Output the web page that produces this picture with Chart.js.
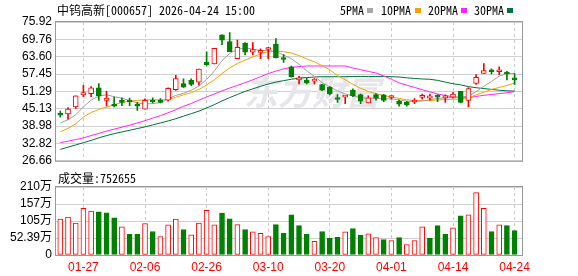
<!DOCTYPE html>
<html>
<head>
<meta charset="utf-8">
<script src="https://cdn.jsdelivr.net/npm/chart.js@4.4.0/dist/chart.umd.min.js"></script>
<style>
  body { margin: 0; background: #fff; }
  #wrap { position: relative; width: 578px; height: 276px; overflow: hidden; }
  canvas { position: absolute; left: 0; }
  .txt { position: absolute; font-family: "Noto Sans Mono CJK SC", "Noto Sans CJK SC", sans-serif; font-size: 12px; color: #000; white-space: nowrap; line-height: 14px; }
  .sq { position: absolute; width: 6px; height: 5px; }
</style>
</head>
<body>
<div id="wrap">
  <canvas id="k-chart" width="578" height="172" style="top:0"></canvas>
  <canvas id="vol-chart" width="578" height="104" style="top:172px"></canvas>
  <div class="txt" style="left:57px;top:3px">中钨高新[000657] 2026-04-24 15:00</div>
  <div class="txt" style="left:340px;top:3px">5PMA</div><div class="sq" style="left:367px;top:8px;background:#a8a8a8"></div>
  <div class="txt" style="left:381px;top:3px">10PMA</div><div class="sq" style="left:415px;top:8px;background:#f5a200"></div>
  <div class="txt" style="left:428px;top:3px">20PMA</div><div class="sq" style="left:461px;top:8px;background:#ff22ff"></div>
  <div class="txt" style="left:474px;top:3px">30PMA</div><div class="sq" style="left:507px;top:8px;background:#00703c"></div>
  <div class="txt" style="left:58px;top:171px">成交量:752655</div>
</div>
<script>
// 60 trading days, 01-22 .. 04-24
var xTickIdx = [3, 11, 19, 27, 35, 43, 51, 59];
var xTickLabels = ['01-27', '02-06', '02-26', '03-10', '03-20', '04-01', '04-14', '04-24'];
var yTicks = [26.66, 32.82, 38.98, 45.13, 51.29, 57.45, 63.60, 69.76, 75.92];
var volTicks = [0, 52.39, 104.78, 157.17, 209.56];
var volTickLabels = ['0', '52.39万', '105万', '157万', '210万'];

var open = [43.40,43.29,45.80,50.03,50.49,52.55,48.09,46.72,48.20,48.09,
            46.72,45.00,48.20,47.97,48.20,51.86,54.03,55.18,54.60,61.58,
            61.00,71.38,69.00,62.95,68.43,65.23,65.12,66.15,68.09,62.95,
            59.97,55.40,55.29,54.95,53.69,52.78,48.78,49.23,51.75,50.15,
            47.17,50.15,50.03,49.12,47.86,47.40,47.52,49.12,48.89,49.58,
            49.00,49.23,51.29,48.09,54.15,57.69,58.60,58.26,58.15,55.75];
var high = [44.32,45.57,49.69,53.46,53.00,54.03,51.29,49.23,49.00,48.89,
            47.40,48.66,49.00,48.77,52.60,57.00,55.75,55.75,59.18,65.35,
            66.60,71.38,72.20,69.46,68.60,68.66,66.38,66.95,70.03,64.32,
            60.32,56.66,56.09,55.86,53.80,53.00,50.15,49.69,52.20,50.38,
            49.69,50.49,50.26,49.69,48.20,47.75,48.78,50.38,50.38,50.15,
            50.03,50.95,51.29,52.66,57.23,61.12,59.29,59.98,58.38,57.57];
var low = [42.15,41.46,45.23,49.46,49.46,48.09,46.03,45.80,46.26,46.26,
           44.55,45.00,47.17,47.17,47.80,51.60,52.66,53.35,53.46,60.55,
           61.00,67.86,65.35,62.95,64.20,64.32,62.95,62.95,63.18,61.58,
           56.32,53.92,53.92,53.92,51.52,50.03,47.40,46.95,49.46,46.95,
           47.17,48.20,47.63,48.55,46.03,46.03,46.95,48.55,48.20,47.63,
           47.40,48.89,47.17,45.80,53.80,57.69,57.46,57.23,55.40,53.80];
var close = [42.83,45.00,49.69,50.83,52.55,49.69,48.89,46.03,47.40,47.52,
             46.03,48.09,47.52,47.40,52.40,55.86,52.78,53.80,59.18,60.66,
             66.60,69.44,65.35,66.95,65.23,66.15,65.69,66.60,63.18,62.60,
             56.55,55.86,54.26,55.40,51.75,50.38,48.43,49.69,49.80,47.86,
             49.00,48.89,48.09,49.35,46.72,46.49,47.86,49.92,49.69,49.23,
             49.35,50.38,47.40,52.32,56.32,58.72,58.26,58.60,57.46,55.40];

var ma5 = [40.1,41.2,43.0,45.8,48.2,49.6,50.1,49.4,48.9,48.0,
           47.2,46.8,47.0,47.3,48.6,49.9,50.6,51.7,53.2,55.5,
           58.5,62.2,64.8,66.2,66.7,66.3,65.8,65.8,65.4,64.2,
           62.9,60.9,58.6,56.6,54.4,52.9,51.5,50.4,49.7,49.1,
           48.8,48.8,48.7,48.6,48.3,47.8,47.7,47.9,48.3,48.8,
           49.0,49.2,49.3,49.6,51.2,53.1,54.8,56.7,57.6,57.7];
var ma10 = [36.9,38.2,39.8,42.2,43.8,44.9,45.7,46.6,47.3,47.8,
            48.1,48.3,48.3,48.3,48.4,49.2,50.1,50.8,52.0,53.6,
            55.4,57.6,59.6,61.2,62.4,63.5,64.6,65.4,65.6,65.4,
            64.9,64.0,62.8,61.8,60.4,59.0,56.9,55.4,53.8,52.4,
            51.3,50.5,49.8,49.3,48.8,48.3,48.1,48.0,48.0,48.3,
            48.4,48.5,48.5,48.8,50.1,51.0,52.0,52.7,53.4,54.2];
var ma20 = [33.1,33.6,34.2,34.8,35.6,36.4,37.2,37.9,38.6,39.3,
            40.1,40.9,41.8,42.7,43.7,44.8,46.0,47.0,48.2,49.3,
            50.4,51.5,52.5,53.4,54.4,55.4,56.5,57.6,58.5,59.3,
            59.8,60.1,60.3,60.3,60.3,60.3,60.3,60.3,59.6,59.0,
            58.4,57.8,56.8,55.6,54.3,53.5,52.7,51.9,51.1,50.4,
            49.8,49.4,49.1,49.0,49.5,49.9,50.2,50.5,50.8,51.2];
var ma30 = [30.7,31.5,32.3,33.1,33.9,34.8,35.6,36.3,36.9,37.5,
            38.1,38.7,39.4,40.1,40.8,41.6,42.5,43.4,44.3,45.4,
            46.6,47.9,49.1,50.2,51.3,52.2,53.1,53.9,54.6,55.1,
            55.6,56.0,56.2,56.4,56.5,56.5,56.5,56.5,56.6,56.6,
            56.6,56.6,56.6,56.5,56.4,56.1,55.9,55.7,55.6,55.2,
            54.6,54.0,53.6,53.0,52.6,52.3,52.0,51.7,51.5,51.4];

// volume in 万
var volume = [110.8,116.9,98.7,144.1,135.0,133.0,130.0,114.9,86.6,63.5,
              63.5,96.7,72.5,56.4,92.7,110.8,78.6,62.5,98.7,138.0,
              92.7,129.0,111.8,93.7,78.6,71.5,66.5,56.4,93.7,67.5,
              123.9,90.7,63.5,42.3,72.5,51.4,54.4,71.5,81.6,60.4,
              65.5,53.4,47.4,44.3,53.4,32.2,44.3,86.6,51.4,90.7,
              63.5,83.6,120.9,123.9,192.4,144.1,72.5,92.7,90.7,75.3];
var volUp = [1,1,1,1,1,0,0,0,1,0, 0,1,0,1,1,1,0,1,1,1,
             1,0,0,1,0,1,1,1,0,0, 0,0,0,1,0,0,0,1,0,0,
             1,1,0,1,0,1,1,1,0,0, 0,1,0,1,1,1,0,1,0,0];

var RED = '#ff0000', GREEN = '#008000';
var up = close.map(function (c, i) { return c >= open[i]; });

function pts(arr) { return arr.map(function (v, i) { return { x: i, y: v }; }); }

var xMin = -0.56, xMax = 59.96;

var framePlugin = {
  id: 'frame',
  afterDraw: function (chart) {
    var a = chart.chartArea, ctx = chart.ctx;
    ctx.save();
    ctx.strokeStyle = '#999';
    ctx.lineWidth = 1;
    ctx.strokeRect(a.left - 0.5, a.top - 0.5, a.right - a.left + 1, a.bottom - a.top + 1);
    ctx.restore();
  }
};

var watermark = {
  id: 'watermark',
  beforeDatasetsDraw: function (chart) {
    var ctx = chart.ctx;
    ctx.save();
    ctx.fillStyle = '#e6e6ea';
    ctx.font = 'italic bold 34px "Noto Sans CJK SC"';
    ctx.textBaseline = 'middle';
    ctx.fillText('东方财富', 244, 92);
    ctx.restore();
  }
};

function lineSet(data, color) {
  return { type: 'line', data: pts(data), borderColor: color, borderWidth: 1,
           pointRadius: 0, fill: false, tension: 0, order: 10 };
}

new Chart(document.getElementById('k-chart'), {
  data: {
    datasets: [
      lineSet(ma5, '#a0a0a0'),
      lineSet(ma10, '#f5a200'),
      lineSet(ma20, '#ff22ff'),
      lineSet(ma30, '#00703c'),
      {
        type: 'bar',
        data: low.map(function (l, i) { return { x: i, y: [l, high[i]] }; }),
        backgroundColor: up.map(function (u) { return u ? RED : GREEN; }),
        barThickness: 1, grouped: false, order: 2
      },
      {
        type: 'bar',
        data: open.map(function (o, i) { return { x: i, y: [o, close[i]] }; }),
        backgroundColor: up.map(function (u) { return u ? '#ffffff' : GREEN; }),
        borderColor: up.map(function (u) { return u ? RED : GREEN; }),
        borderWidth: 1, borderSkipped: false, minBarLength: 2,
        barThickness: 5, grouped: false, order: 1
      }
    ]
  },
  options: {
    animation: false, responsive: false, events: [],
    layout: { padding: { left: 0, right: 56, top: 22, bottom: 7 } },
    plugins: { legend: { display: false }, tooltip: { enabled: false } },
    scales: {
      x: {
        type: 'linear', min: xMin, max: xMax, offset: false,
        afterBuildTicks: function (s) { s.ticks = xTickIdx.map(function (v) { return { value: v }; }); },
        afterFit: function (s) { s.height = 0; },
        ticks: { display: false },
        grid: { color: '#c8c8c8', drawTicks: false, offset: false },
        border: { display: false, dash: [3, 3] }
      },
      y: {
        min: 26.66, max: 75.92,
        afterBuildTicks: function (s) { s.ticks = yTicks.map(function (v) { return { value: v }; }); },
        afterFit: function (s) { s.width = 56; },
        ticks: {
          callback: function (v, i) { return yTicks[i].toFixed(2); },
          autoSkip: false, padding: 4, color: '#000', font: { size: 12, family: '"Liberation Sans"' }
        },
        grid: { color: '#d0d0d0', drawTicks: false },
        border: { display: false }
      }
    }
  },
  plugins: [watermark, framePlugin]
});

new Chart(document.getElementById('vol-chart'), {
  type: 'bar',
  data: {
    datasets: [{
      data: volume.map(function (v, i) { return { x: i, y: v }; }),
      backgroundColor: volUp.map(function (u) { return u ? '#ffffff' : GREEN; }),
      borderColor: volUp.map(function (u) { return u ? RED : GREEN; }),
      borderWidth: 1, borderSkipped: false, barThickness: 5
    }]
  },
  options: {
    animation: false, responsive: false, events: [],
    layout: { padding: { left: 0, right: 56, top: 15, bottom: 0 } },
    plugins: { legend: { display: false }, tooltip: { enabled: false } },
    scales: {
      x: {
        type: 'linear', min: xMin, max: xMax, offset: false,
        afterBuildTicks: function (s) { s.ticks = xTickIdx.map(function (v) { return { value: v }; }); },
        afterFit: function (s) { s.height = 21; },
        ticks: {
          callback: function (v, i) { return xTickLabels[i]; },
          autoSkip: false, maxRotation: 0, padding: 5,
          color: RED, font: { size: 12, family: '"Liberation Sans"' }
        },
        grid: { color: '#c8c8c8', drawTicks: false, offset: false },
        border: { display: false, dash: [3, 3] }
      },
      y: {
        min: 0, max: 209.56,
        afterBuildTicks: function (s) { s.ticks = volTicks.map(function (v) { return { value: v }; }); },
        afterFit: function (s) { s.width = 56; },
        ticks: {
          callback: function (v, i) { return volTickLabels[i]; },
          autoSkip: false, padding: 4, color: '#000', font: { size: 12, family: '"Liberation Sans", "Noto Sans CJK SC"' }
        },
        grid: { color: '#d0d0d0', drawTicks: false },
        border: { display: false }
      }
    }
  },
  plugins: [framePlugin]
});
</script>
</body>
</html>
